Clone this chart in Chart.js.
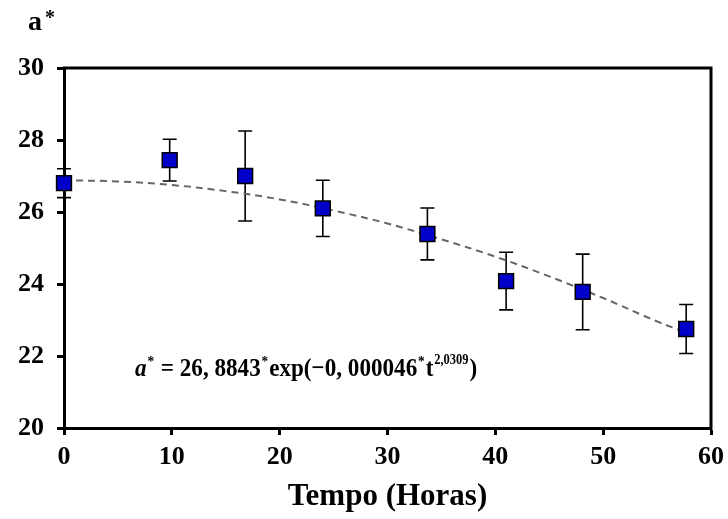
<!DOCTYPE html>
<html>
<head>
<meta charset="utf-8">
<script src="https://cdn.jsdelivr.net/npm/chart.js@4.4.1/dist/chart.umd.min.js"></script>
<style>
  html, body { margin: 0; padding: 0; background: #fff; }
  #wrap { width: 728px; height: 519px; position: relative; }
</style>
</head>
<body>
<div id="wrap"><canvas id="chart" width="728" height="519"></canvas></div>
<script>
// measured points (hours, a*) and their error bars
const tempo = [0, 9.8, 16.8, 24.0, 33.7, 41.0, 48.1, 57.7];
const aStar = [26.80, 27.44, 27.00, 26.10, 25.39, 24.08, 23.78, 22.75];
const erro = [0.40, 0.58, 1.25, 0.78, 0.72, 0.80, 1.05, 0.68];

// dashed fitted curve
const tempoAjuste = [0, 5, 10, 15, 20, 25, 30, 35, 40, 45, 50, 55, 57.7];
const aAjuste = [26.88, 26.85, 26.75, 26.58, 26.35, 26.04, 25.68, 25.24, 24.76, 24.21, 23.61, 22.96, 22.65];

const xTicks = [0, 10, 20, 30, 40, 50, 60];
const yTicks = [20, 22, 24, 26, 28, 30];

const serif = '"Liberation Serif", "Times New Roman", serif';

// error bars under the markers
const errorBars = {
    id: 'errorBars',
    beforeDatasetsDraw(chart) {
        const { ctx, scales: { x, y } } = chart;
        ctx.save();
        ctx.strokeStyle = '#000';
        ctx.lineWidth = 1.6;
        tempo.forEach((t, i) => {
            const px = x.getPixelForValue(t);
            const top = y.getPixelForValue(aStar[i] + erro[i]);
            const bot = y.getPixelForValue(aStar[i] - erro[i]);
            ctx.beginPath();
            ctx.moveTo(px, top); ctx.lineTo(px, bot);
            ctx.moveTo(px - 7, top); ctx.lineTo(px + 7, top);
            ctx.moveTo(px - 7, bot); ctx.lineTo(px + 7, bot);
            ctx.stroke();
        });
        ctx.restore();
    }
};

// frame on top/right, y label and equation
const extras = {
    id: 'extras',
    afterDraw(chart) {
        const { ctx, chartArea: a } = chart;
        ctx.save();
        ctx.strokeStyle = '#000';
        ctx.lineWidth = 3;
        ctx.beginPath();
        ctx.moveTo(a.left - 1.5, a.top);
        ctx.lineTo(a.right, a.top);
        ctx.lineTo(a.right, a.bottom + 1.5);
        ctx.stroke();

        ctx.fillStyle = '#000';
        ctx.textBaseline = 'alphabetic';
        ctx.font = 'bold 28px ' + serif;
        ctx.fillText('a', 28, 30);
        ctx.font = 'bold 20px ' + serif;
        ctx.fillText('*', 45, 24);

        // equation, drawn piece by piece
        const parts = [
            ['italic bold 26px ' + serif, 'a', 0],
            ['bold 15px ' + serif, '*', -10],
            ['bold 26px ' + serif, ' = 26, 8843', 0],
            ['bold 15px ' + serif, '*', -10],
            ['bold 26px ' + serif, 'exp(\u22120, 000046', 0],
            ['bold 15px ' + serif, '*', -10],
            ['bold 26px ' + serif, 't', 0],
            ['bold 14px ' + serif, '2,0309', -12],
            ['bold 26px ' + serif, ')', 0]
        ];
        let total = 0;
        parts.forEach(p => { ctx.font = p[0]; total += ctx.measureText(p[1]).width + 1; });
        const sx = 343 / total;
        ctx.translate(135, 376);
        ctx.scale(sx, 1);
        let cx = 0;
        parts.forEach(p => {
            ctx.font = p[0];
            ctx.fillText(p[1], cx, p[2]);
            cx += ctx.measureText(p[1]).width + 1;
        });
        ctx.restore();
    }
};

new Chart(document.getElementById('chart'), {
    type: 'scatter',
    data: {
        datasets: [
            {
                label: 'a*',
                data: tempo.map((t, i) => ({ x: t, y: aStar[i] })),
                pointStyle: 'rect',
                pointRadius: 10.5,
                pointHoverRadius: 10.5,
                backgroundColor: '#0000c8',
                borderColor: '#000',
                borderWidth: 1.5,
                clip: false
            },
            {
                label: 'ajuste',
                data: tempoAjuste.map((t, i) => ({ x: t, y: aAjuste[i] })),
                showLine: true,
                pointRadius: 0,
                borderColor: '#666',
                borderWidth: 2,
                borderDash: [7, 5],
                tension: 0.4,
                fill: false,
                clip: false
            }
        ]
    },
    plugins: [errorBars, extras],
    options: {
        responsive: false,
        animation: false,
        events: [],
        layout: { padding: { left: 0, top: 68, right: 17, bottom: 0 } },
        plugins: {
            legend: { display: false },
            tooltip: { enabled: false },
            title: { display: false }
        },
        scales: {
            x: {
                type: 'linear',
                min: 0,
                max: 60,
                afterBuildTicks: s => { s.ticks = xTicks.map(v => ({ value: v })); },
                afterFit: s => { s.height = 91; s.paddingLeft = 0; s.paddingRight = 0; },
                grid: { drawOnChartArea: false, drawTicks: true, tickLength: 7, tickColor: '#000', tickWidth: 3 },
                border: { color: '#000', width: 3 },
                ticks: { color: '#000', font: { family: serif, size: 26, weight: 'bold' }, padding: 7, maxRotation: 0 },
                title: {
                    display: true,
                    text: 'Tempo (Horas)',
                    color: '#000',
                    font: { family: serif, size: 31, weight: 'bold' },
                    padding: { top: 0, bottom: 3 }
                }
            },
            y: {
                type: 'linear',
                min: 20,
                max: 30,
                afterBuildTicks: s => { s.ticks = yTicks.map(v => ({ value: v })); },
                afterFit: s => { s.width = 64; s.paddingTop = 0; s.paddingBottom = 0; },
                grid: { drawOnChartArea: false, drawTicks: true, tickLength: 7, tickColor: '#000', tickWidth: 3 },
                border: { color: '#000', width: 3 },
                ticks: { color: '#000', font: { family: serif, size: 26, weight: 'bold' }, padding: 13 }
            }
        }
    }
});
</script>
</body>
</html>
